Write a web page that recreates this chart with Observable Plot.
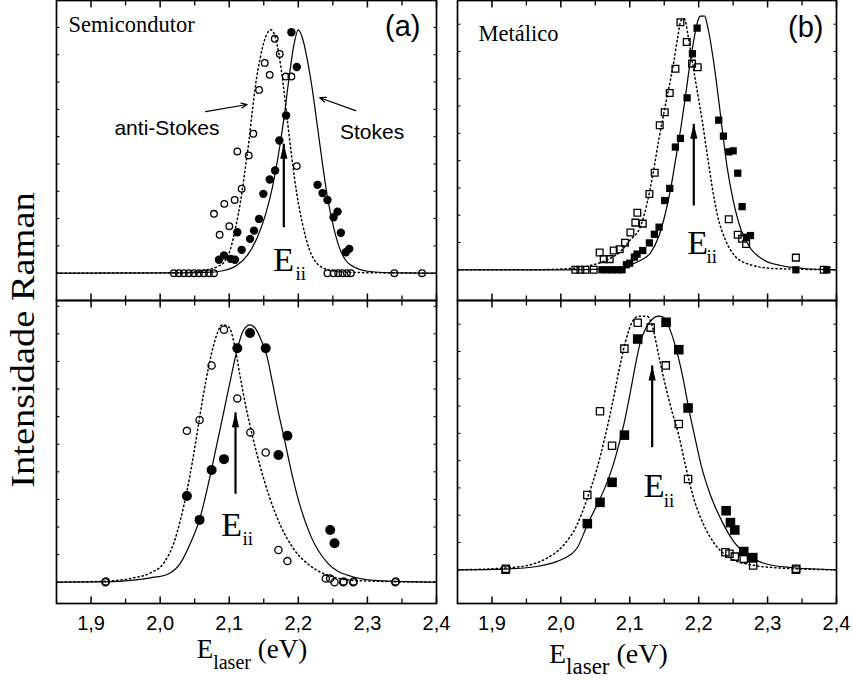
<!DOCTYPE html>
<html><head><meta charset="utf-8">
<script src="https://cdn.jsdelivr.net/npm/d3@7"></script>
<script src="https://cdn.jsdelivr.net/npm/@observablehq/plot@0.6"></script>
<style>
body{margin:0;background:#fff;}
#wrap{position:relative;width:853px;height:680px;overflow:hidden;background:#fff;}
.lab{position:absolute;font-family:"Liberation Serif","Times New Roman",serif;color:#000;white-space:nowrap;}
</style></head><body><div id="wrap"></div>
<script>
// ---------- axis / tick labels ----------
const xTickValues = [1.9, 2.0, 2.1, 2.2, 2.3, 2.4];
const xTickLabels = ["1,9", "2,0", "2,1", "2,2", "2,3", "2,4"];
const xMinorTicks = [1.95, 2.05, 2.15, 2.25, 2.35];
const yAxisTitle = "Intensidade Raman";
const xAxisTitleMain = "E";
const xAxisTitleSub = "laser";
const xAxisTitleUnit = " (eV)";

// ---------- (a) Semicondutor, top panel ----------
const semiTopStokes = [[2.1900,0.990],[2.1978,0.847],[2.1823,0.648],[2.1726,0.545],[2.1664,0.422],[2.1586,0.385],[2.1494,0.326],[2.1432,0.223],[2.1359,0.175],[2.1301,0.141],[2.1117,0.168],[2.1180,0.096],[2.1083,0.055],[2.1021,0.059],[2.0924,0.073],[2.0851,0.055],[2.2278,0.363],[2.2350,0.329],[2.2422,0.301],[2.2568,0.253],[2.2510,0.230],[2.2616,0.166],[2.2737,0.100],[2.2688,0.086]];
const semiTopAnti = [[2.1659,0.963],[2.1731,0.901],[2.1514,0.864],[2.1586,0.815],[2.1818,0.808],[2.1900,0.808],[2.1432,0.753],[2.1349,0.573],[2.1117,0.500],[2.1282,0.484],[2.1180,0.347],[2.1079,0.301],[2.0929,0.285],[2.0779,0.244],[2.1001,0.193],[2.0861,0.158],[2.1978,0.440],[2.0199,0],[2.0271,0],[2.0344,0],[2.0416,0],[2.0489,0],[2.0561,0],[2.0634,0],[2.0706,0],[2.0779,0],[2.2422,0],[2.2510,0],[2.2577,0],[2.2640,0],[2.2703,0],[2.2761,0],[2.3389,0],[2.3791,0]];
const semiTopFitStokes = [[1.85,0],[2.0344,0.001],[2.0731,0.004],[2.0924,0.011],[2.1117,0.034],[2.1262,0.073],[2.1407,0.148],[2.1528,0.244],[2.1625,0.353],[2.1722,0.504],[2.1794,0.641],[2.1867,0.805],[2.1930,0.929],[2.2002,1.0],[2.2070,0.956],[2.2132,0.874],[2.2205,0.751],[2.2278,0.600],[2.2350,0.449],[2.2422,0.312],[2.2510,0.189],[2.2592,0.107],[2.2688,0.052],[2.2809,0.025],[2.3003,0.008],[2.3486,0.001],[2.40,0]];
const semiTopFitAnti = [[1.85,0],[1.9861,0.001],[2.0441,0.004],[2.0682,0.014],[2.0827,0.027],[2.0924,0.045],[2.1011,0.093],[2.1093,0.189],[2.1166,0.299],[2.1228,0.422],[2.1286,0.545],[2.1335,0.668],[2.1383,0.778],[2.1446,0.881],[2.1518,0.963],[2.1601,1.0],[2.1664,0.973],[2.1722,0.895],[2.1780,0.778],[2.1842,0.627],[2.1905,0.477],[2.1978,0.326],[2.2060,0.203],[2.2157,0.100],[2.2278,0.038],[2.2471,0.011],[2.2761,0.003],[2.40,0]];

// ---------- (a) Semicondutor, bottom panel ----------
const semiBotStokes = [[2.1301,0.968],[2.1117,0.909],[2.1528,0.909],[2.1842,0.569],[2.1712,0.494],[2.0924,0.478],[2.0745,0.436],[2.0387,0.335],[2.0571,0.242],[2.2461,0.203],[2.2524,0.151]];
const semiBotAnti = [[2.0924,0.981],[2.0745,0.842],[2.1117,0.714],[2.0571,0.630],[2.0387,0.588],[2.1306,0.582],[2.1528,0.504],[2.1712,0.125],[2.1842,0.082],[2.2398,0.014],[2.2461,0.014],[2.2524,0],[2.2650,0],[2.2795,0],[2.3404,0],[1.9208,0],[1.9214,0.003],[2.2656,0.003],[2.2801,0.003],[2.3410,0.003]];
const semiBotFitStokes = [[1.85,0],[1.9208,0.001],[1.9619,0.008],[1.9861,0.017],[2.0102,0.030],[2.0296,0.075],[2.0441,0.153],[2.0571,0.244],[2.0658,0.335],[2.0745,0.439],[2.0827,0.543],[2.0924,0.666],[2.1021,0.790],[2.1117,0.906],[2.1204,0.978],[2.1301,1.0],[2.1383,0.984],[2.1465,0.939],[2.1543,0.881],[2.1625,0.777],[2.1707,0.666],[2.1794,0.562],[2.1891,0.439],[2.2012,0.309],[2.2181,0.179],[2.2422,0.075],[2.2761,0.023],[2.3148,0.006],[2.40,0]];
const semiBotFitAnti = [[1.85,0],[1.9208,0.004],[1.9619,0.017],[1.9861,0.036],[2.0054,0.075],[2.0199,0.153],[2.0296,0.244],[2.0383,0.348],[2.0465,0.465],[2.0537,0.582],[2.0624,0.725],[2.0706,0.842],[2.0793,0.939],[2.0900,1.0],[2.0996,0.991],[2.1079,0.919],[2.1156,0.802],[2.1238,0.686],[2.1335,0.569],[2.1446,0.452],[2.1577,0.335],[2.1746,0.218],[2.1939,0.127],[2.2181,0.062],[2.2471,0.023],[2.2857,0.006],[2.40,0]];

// ---------- (b) Metálico, top panel ----------
const metTopStokes = [[2.1977,0.953],[2.1909,0.852],[2.1832,0.678],[2.1735,0.518],[2.1662,0.484],[2.1580,0.321],[2.1507,0.273],[2.1425,0.168],[2.1357,0.140],[2.1285,0.106],[2.1188,0.076],[2.1106,0.062],[2.1067,0.050],[2.0999,0.026],[2.0951,0.020],[2.2291,0.590],[2.2359,0.527],[2.2437,0.465],[2.2500,0.469],[2.2567,0.381],[2.2630,0.249],[2.2751,0.135],[2.2693,0.128],[2.3410,0],[2.3860,0],[2.0597,0],[2.0670,0],[2.0742,0],[2.0815,0],[2.0888,0]];
const metTopAnti = [[2.1735,0.976],[2.1827,0.898],[2.1904,0.813],[2.1986,0.799],[2.1662,0.793],[2.1580,0.697],[2.1507,0.621],[2.1435,0.570],[2.1362,0.383],[2.1285,0.299],[2.1110,0.225],[2.1081,0.186],[2.1188,0.182],[2.1009,0.147],[2.0931,0.107],[2.0854,0.081],[2.0767,0.076],[2.0563,0.068],[2.0622,0.042],[2.0709,0.042],[2.2437,0.199],[2.2567,0.138],[2.2630,0.122],[2.2688,0.102],[2.3410,0.048],[2.3816,0],[2.0210,0],[2.0283,0],[2.0355,0],[2.0476,0]];
const metTopFitStokes = [[1.85,0],[2.0041,0],[2.0622,0.003],[2.0864,0.009],[2.1009,0.020],[2.1154,0.037],[2.1299,0.066],[2.1420,0.131],[2.1517,0.223],[2.1599,0.328],[2.1672,0.446],[2.1744,0.564],[2.1807,0.682],[2.1870,0.806],[2.1928,0.904],[2.1991,0.985],[2.2025,1.0],[2.2088,1.0],[2.2125,0.965],[2.2161,0.917],[2.2228,0.799],[2.2291,0.668],[2.2349,0.537],[2.2412,0.406],[2.2500,0.275],[2.2616,0.157],[2.2751,0.085],[2.2945,0.039],[2.3187,0.017],[2.3526,0.005],[2.40,0]];
const metTopFitAnti = [[1.85,0],[1.9557,0],[2.0137,0.005],[2.0428,0.017],[2.0670,0.039],[2.0864,0.072],[2.1009,0.118],[2.1154,0.170],[2.1251,0.262],[2.1338,0.380],[2.1420,0.511],[2.1493,0.616],[2.1565,0.714],[2.1638,0.819],[2.1696,0.917],[2.1744,0.983],[2.1793,0.990],[2.1841,0.931],[2.1904,0.826],[2.1977,0.708],[2.2050,0.590],[2.2122,0.459],[2.2195,0.328],[2.2277,0.210],[2.2388,0.118],[2.2534,0.052],[2.2751,0.020],[2.3090,0.005],[2.40,0]];

// ---------- (b) Metálico, bottom panel ----------
const metBotStokes = [[2.1527,0.976],[2.1115,0.910],[2.1711,0.868],[2.1846,0.638],[2.0922,0.531],[2.0743,0.345],[2.0568,0.266],[2.0384,0.182],[2.2398,0.233],[2.2461,0.186],[2.2524,0.157],[2.2654,0.072],[2.2785,0.048]];
const metBotAnti = [[2.1115,0.974],[2.1304,0.955],[2.0922,0.872],[2.1522,0.806],[2.0568,0.625],[2.1711,0.575],[2.0743,0.489],[2.1846,0.358],[2.0384,0.295],[2.2388,0.069],[2.2446,0.063],[2.2524,0.052],[2.2654,0.043],[2.2790,0.017],[1.9198,0],[1.9204,0.004],[2.3410,0],[2.3416,0.004]];
const metBotFitStokes = [[1.85,0],[1.9198,0.003],[1.9653,0.013],[1.9944,0.033],[2.0137,0.059],[2.0234,0.085],[2.0384,0.177],[2.0525,0.256],[2.0646,0.328],[2.0743,0.400],[2.0839,0.491],[2.0922,0.583],[2.1009,0.701],[2.1081,0.806],[2.1154,0.898],[2.1241,0.957],[2.1323,0.987],[2.1410,1.0],[2.1493,0.996],[2.1580,0.950],[2.1686,0.858],[2.1774,0.754],[2.1856,0.636],[2.1938,0.531],[2.2035,0.413],[2.2170,0.295],[2.2340,0.190],[2.2509,0.111],[2.2703,0.059],[2.2945,0.026],[2.3332,0.009],[2.40,0]];
const metBotFitAnti = [[1.85,0],[1.9198,0.007],[1.9557,0.020],[1.9799,0.046],[2.0041,0.098],[2.0234,0.177],[2.0384,0.282],[2.0525,0.400],[2.0646,0.531],[2.0743,0.649],[2.0839,0.780],[2.0936,0.898],[2.1033,0.976],[2.1130,1.0],[2.1251,1.0],[2.1338,0.950],[2.1420,0.845],[2.1517,0.727],[2.1614,0.623],[2.1711,0.531],[2.1807,0.413],[2.1928,0.282],[2.2074,0.177],[2.2243,0.098],[2.2461,0.046],[2.2751,0.020],[2.3187,0.007],[2.40,0]];

// ---------- annotations (data coordinates) ----------
const semiTopNotes = [
  {kind:"name", text:"Semicondutor", x:1.8674, y:0.989},
  {kind:"tag", text:"(a)", x:2.3768, y:0.9725},
  {kind:"side", text:"anti-Stokes", x:2.0099, y:0.566},
  {kind:"side", text:"Stokes", x:2.3067, y:0.552},
  {kind:"E", text:"E", x:2.1636, y:0.008},
  {kind:"sub", text:"ii", x:2.1959, y:-0.030}
];
const semiTopArrows = [{x1:2.0657, y1:0.664, x2:2.126, y2:0.693},{x1:2.2828, y1:0.668, x2:2.2311, y2:0.721}];
const semiTopEii = [{x:2.179, y1:0.189, y2:0.532}];

const semiBotNotes = [
  {kind:"E", text:"E", x:2.0884, y:0.181},
  {kind:"sub", text:"ii", x:2.1192, y:0.143}
];
const semiBotEii = [{x:2.1091, y1:0.3434, y2:0.660}];

const metTopNotes = [
  {kind:"name", text:"Metálico", x:1.8805, y:0.904},
  {kind:"tag", text:"(b)", x:2.3811, y:0.916},
  {kind:"E", text:"E", x:2.1833, y:0.063},
  {kind:"sub", text:"ii", x:2.2113, y:0.025}
];
const metTopEii = [{x:2.1929, y1:0.2535, y2:0.5757}];

const metBotNotes = [
  {kind:"E", text:"E", x:2.1204, y:0.286},
  {kind:"sub", text:"ii", x:2.1494, y:0.247}
];
const metBotEii = [{x:2.1325, y1:0.4834, y2:0.8056}];

// ---------- layout & style ----------
const X_DOMAIN = [1.85, 2.4];
const layout = {
  tl:{left:56, top:0, width:380, height:300, y:[-0.1122,1.1204], yStep:0.1122, axis:false},
  tr:{left:457, top:0, width:379, height:300, y:[-0.1211,1.0619], yStep:0.1076, axis:false},
  bl:{left:56, top:300, width:380, height:303, y:[-0.0828,1.0944], yStep:0.1072, axis:true},
  br:{left:457, top:300, width:379, height:303, y:[-0.1329,1.0619], yStep:0.1076, axis:true}
};
const SERIF = "'Liberation Serif', 'Times New Roman', serif";
const SANS = "'Liberation Sans', Arial, sans-serif";

const seg = (dx1, dy1, dx2, dy2) => ({draw(ctx){ ctx.moveTo(dx1, dy1); ctx.lineTo(dx2, dy2); }});
const arrowHead = {draw(ctx){ ctx.moveTo(0,0); ctx.lineTo(-3.6,15); ctx.lineTo(3.6,15); ctx.closePath(); }};
const X = d => d[0], Y = d => d[1];

function panel(L, spec){
  const m = 2, mb = L.axis ? 48 : 2;
  const yTicks = d3.range(0, L.y[1], L.yStep);
  const marks = [
    Plot.line(spec.fitAnti, {x:X, y:Y, curve:"monotone-x", stroke:"black", strokeWidth:1.5, strokeDasharray:"1.3,3", clip:true}),
    Plot.line(spec.fitStokes, {x:X, y:Y, curve:"monotone-x", stroke:"black", strokeWidth:1.2, clip:true}),
    Plot.dot(spec.anti, {x:X, y:Y, r:spec.rOpen, symbol:spec.symbol, fill:"none", stroke:"black", strokeWidth:1.3}),
    Plot.dot(spec.stokes, {x:X, y:Y, r:spec.rFill, symbol:spec.symbol, fill:"black", stroke:"none"}),
    Plot.link(spec.eii, {x1:"x", x2:"x", y1:"y1", y2:"y2", stroke:"black", strokeWidth:2.2}),
    Plot.dot(spec.eii, {x:"x", y:"y2", symbol:arrowHead, fill:"black", stroke:"none"}),
    Plot.dot(xTickValues, {x:d=>d, frameAnchor:"bottom", symbol:seg(0,0,0,-7), stroke:"black", strokeWidth:1.5, fill:"none"}),
    Plot.dot(xMinorTicks, {x:d=>d, frameAnchor:"bottom", symbol:seg(0,0,0,-5), stroke:"black", strokeWidth:1.3, fill:"none"}),
    Plot.dot(xTickValues, {x:d=>d, frameAnchor:"top", symbol:seg(0,0,0,7), stroke:"black", strokeWidth:1.5, fill:"none"}),
    Plot.dot(xMinorTicks, {x:d=>d, frameAnchor:"top", symbol:seg(0,0,0,5), stroke:"black", strokeWidth:1.3, fill:"none"}),
    Plot.dot(yTicks, {y:d=>d, frameAnchor:"left", symbol:seg(0,0,3,0), stroke:"black", strokeWidth:1, fill:"none"}),
    Plot.dot(yTicks, {y:d=>d, frameAnchor:"right", symbol:seg(0,0,-3,0), stroke:"black", strokeWidth:1, fill:"none"}),
    Plot.frame({stroke:"black", strokeWidth:1.7}),
    Plot.text(spec.notes.filter(d=>d.kind==="name"), {x:"x", y:"y", text:"text", textAnchor:"start", lineAnchor:"bottom", fontFamily:SERIF, fontSize:22.5, fill:"black"}),
    Plot.text(spec.notes.filter(d=>d.kind==="tag"), {x:"x", y:"y", text:"text", textAnchor:"end", lineAnchor:"bottom", fontFamily:SANS, fontSize:29, fill:"black"}),
    Plot.text(spec.notes.filter(d=>d.kind==="side"), {x:"x", y:"y", text:"text", textAnchor:"middle", lineAnchor:"bottom", fontFamily:SANS, fontSize:21, fill:"black"}),
    Plot.text(spec.notes.filter(d=>d.kind==="E"), {x:"x", y:"y", text:"text", textAnchor:"start", lineAnchor:"bottom", fontFamily:SERIF, fontSize:34, fill:"black"}),
    Plot.text(spec.notes.filter(d=>d.kind==="sub"), {x:"x", y:"y", text:"text", textAnchor:"start", lineAnchor:"bottom", fontFamily:SERIF, fontSize:19, fill:"black"})
  ];
  if (spec.arrows) marks.push(Plot.arrow(spec.arrows, {x1:"x1", y1:"y1", x2:"x2", y2:"y2", stroke:"black", strokeWidth:1.2, headLength:8, headAngle:45}));
  if (L.axis) marks.push(Plot.axisX({ticks:xTickValues, anchor:"bottom", tickSize:0, tickPadding:12, tickFormat:d=>xTickLabels[xTickValues.indexOf(d)], fontSize:20, fontFamily:SANS, fill:"black", label:null}));
  const svg = Plot.plot({
    width: L.width + 2*m, height: L.height + m + mb,
    marginLeft:m, marginRight:m, marginTop:m, marginBottom:mb,
    x:{domain:X_DOMAIN, axis:null},
    y:{domain:L.y, axis:null},
    style:{background:"transparent", overflow:"visible", fontFamily:SANS, fontSize:"20px"},
    marks
  });
  svg.style.position = "absolute";
  svg.style.left = (L.left - m) + "px";
  svg.style.top = (L.top - m) + "px";
  svg.style.maxWidth = "none";
  return svg;
}

const wrap = document.getElementById("wrap");
wrap.appendChild(panel(layout.tl, {fitStokes:semiTopFitStokes, fitAnti:semiTopFitAnti, stokes:semiTopStokes, anti:semiTopAnti, symbol:"circle", rFill:4.2, rOpen:3.3, notes:semiTopNotes, arrows:semiTopArrows, eii:semiTopEii}));
wrap.appendChild(panel(layout.bl, {fitStokes:semiBotFitStokes, fitAnti:semiBotFitAnti, stokes:semiBotStokes, anti:semiBotAnti, symbol:"circle", rFill:5, rOpen:3.6, notes:semiBotNotes, eii:semiBotEii}));
wrap.appendChild(panel(layout.tr, {fitStokes:metTopFitStokes, fitAnti:metTopFitAnti, stokes:metTopStokes, anti:metTopAnti, symbol:"square", rFill:4.1, rOpen:3.8, notes:metTopNotes, eii:metTopEii}));
wrap.appendChild(panel(layout.br, {fitStokes:metBotFitStokes, fitAnti:metBotFitAnti, stokes:metBotStokes, anti:metBotAnti, symbol:"square", rFill:5.4, rOpen:4.1, notes:metBotNotes, eii:metBotEii}));

// y-axis title (rotated)
const yl = document.createElement("div");
yl.className = "lab";
yl.textContent = yAxisTitle;
Object.assign(yl.style, {left:"22.5px", top:"340px", fontSize:"34px", lineHeight:"34px", transform:"translate(-50%,-50%) rotate(-90deg) scaleX(1.13)"});
wrap.appendChild(yl);

// x-axis titles
function xTitle(left, baseline, main, sub, shift){
  const d = document.createElement("div");
  d.className = "lab";
  d.style.left = left + "px";
  d.style.top = (baseline - 0.8375*main) + "px";
  d.style.fontSize = main + "px";
  d.style.lineHeight = main + "px";
  d.innerHTML = xAxisTitleMain + '<span style="font-size:' + sub + 'px;vertical-align:-' + shift + 'px">' + xAxisTitleSub + '</span>' + xAxisTitleUnit;
  wrap.appendChild(d);
}
xTitle(196.7, 659, 27, 20, 11);
xTitle(549, 663, 28, 23, 11);
</script></body></html>
